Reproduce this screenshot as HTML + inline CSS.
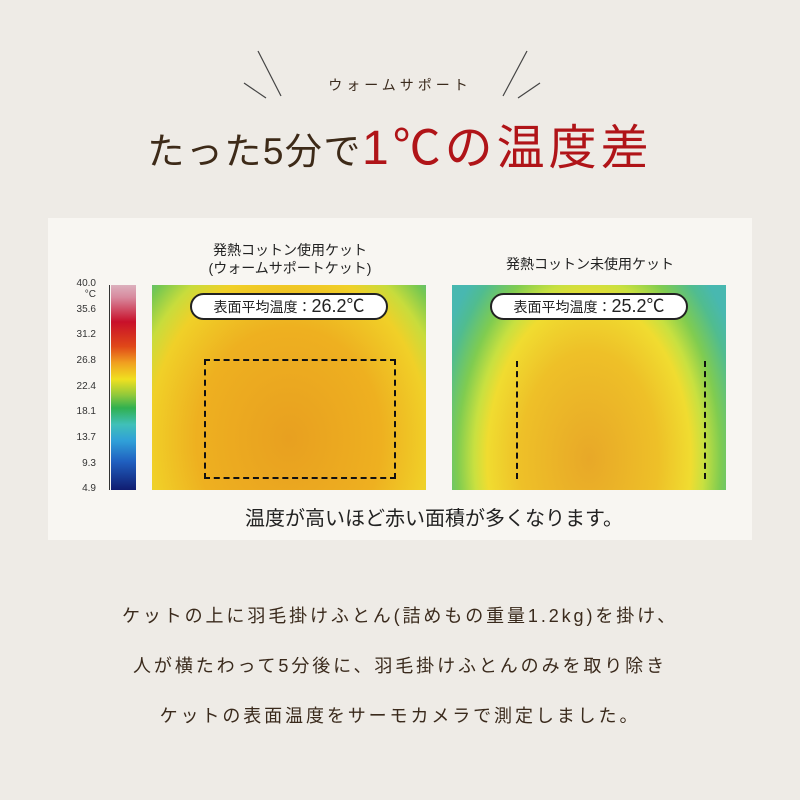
<!DOCTYPE html>
<html><head><meta charset="utf-8"><style>
*{margin:0;padding:0;box-sizing:border-box}
body{width:800px;height:800px;background:#eeebe6;font-family:"Liberation Sans","Noto Sans CJK JP",sans-serif;position:relative;overflow:hidden;color:#3a2a1c}
.abs{position:absolute}
.panel{left:48px;top:218px;width:704px;height:322px;background:#f8f6f2}
.sub{left:0;width:800px;top:75px;text-align:center;font-size:14px;letter-spacing:4px;color:#3a2a1c}
.title{left:0;width:800px;top:108px;text-align:center;white-space:nowrap}
.t1{font-size:37px;color:#3d2a18;letter-spacing:1.5px}
.t2{font-size:48px;color:#b01418;letter-spacing:4px}
.cap{font-size:14px;text-align:center;color:#222;line-height:18px}
.img{width:274px;height:205px;top:285px;overflow:hidden}
.pill{position:absolute;left:38px;top:8px;width:198px;height:27px;border:2px solid #222;border-radius:14px;background:#fff;font-size:14px;text-align:center;line-height:23px;color:#222}
.pill b{font-weight:normal;font-size:18px}
.dash{position:absolute;border:2px dashed #111}
.bar{left:111px;top:285px;width:25px;height:205px;background:linear-gradient(#dcb0bd 0%,#d88a9e 6%,#c8102a 18%,#e04818 30%,#f0a020 38%,#f0e020 46%,#8cc83c 54%,#30b050 60%,#40c0b8 68%,#30a0d8 76%,#2060c0 86%,#101c70 100%)}
.lab{font-size:10px;color:#333;width:40px;text-align:right;left:56px}
.body{left:0;width:800px;text-align:center;font-size:18px;letter-spacing:2.9px;color:#3a2a1c}
</style></head><body>
<svg class="abs" style="left:0;top:0" width="800" height="120">
<line x1="258" y1="51" x2="281" y2="96" stroke="#444" stroke-width="1.2"/>
<line x1="244" y1="83" x2="266" y2="98" stroke="#444" stroke-width="1.2"/>
<line x1="527" y1="51" x2="503" y2="96" stroke="#444" stroke-width="1.2"/>
<line x1="540" y1="83" x2="518" y2="98" stroke="#444" stroke-width="1.2"/>
</svg>
<div class="abs sub">ウォームサポート</div>
<div class="abs title"><span class="t1">たった5分で</span><span class="t2">1℃の温度差</span></div>
<div class="abs panel"></div>
<div class="abs cap" style="left:150px;width:280px;top:241px">発熱コットン使用ケット<br>(ウォームサポートケット)</div>
<div class="abs cap" style="left:450px;width:280px;top:255px">発熱コットン未使用ケット</div>
<div class="abs bar"></div>
<div class="abs lab" style="top:278px">40.0</div>
<div class="abs lab" style="top:289px">°C</div>
<div class="abs lab" style="top:304px">35.6</div>
<div class="abs lab" style="top:329px">31.2</div>
<div class="abs lab" style="top:355px">26.8</div>
<div class="abs lab" style="top:381px">22.4</div>
<div class="abs lab" style="top:406px">18.1</div>
<div class="abs lab" style="top:432px">13.7</div>
<div class="abs lab" style="top:458px">9.3</div>
<div class="abs lab" style="top:483px">4.9</div>
<div class="abs" style="left:109px;top:285px;width:1px;height:205px;background:#333"></div>
<div class="abs img" style="left:152px;background:radial-gradient(ellipse 75% 120% at 50% 75%,#e8a020 0%,#eeb020 45%,#f0d028 68%,#c8dc3c 78%,#78c850 88%,#50b890 96%,#48b8a8 100%)">
<div class="pill">表面平均温度：<b>26.2℃</b></div>
<div class="dash" style="left:52px;top:74px;width:192px;height:120px"></div>
</div>
<div class="abs img" style="left:452px;background:radial-gradient(ellipse 60% 125% at 50% 85%,#e8a828 0%,#eec028 42%,#f0dc30 62%,#c8e040 70%,#80cc50 80%,#50bc90 92%,#48b8b0 100%)">
<div class="pill">表面平均温度：<b>25.2℃</b></div>
<div class="dash" style="left:64px;top:76px;width:190px;height:118px;border-top:none;border-bottom:none"></div>
</div>
<div class="abs" style="left:0;width:868px;top:502px;text-align:center;font-size:20px;color:#222">温度が高いほど赤い面積が多くなります。</div>
<div class="abs body" style="top:602px">ケットの上に羽毛掛けふとん(詰めもの重量1.2kg)を掛け、</div>
<div class="abs body" style="top:652px">人が横たわって5分後に、羽毛掛けふとんのみを取り除き</div>
<div class="abs body" style="top:702px">ケットの表面温度をサーモカメラで測定しました。</div>
</body></html>
